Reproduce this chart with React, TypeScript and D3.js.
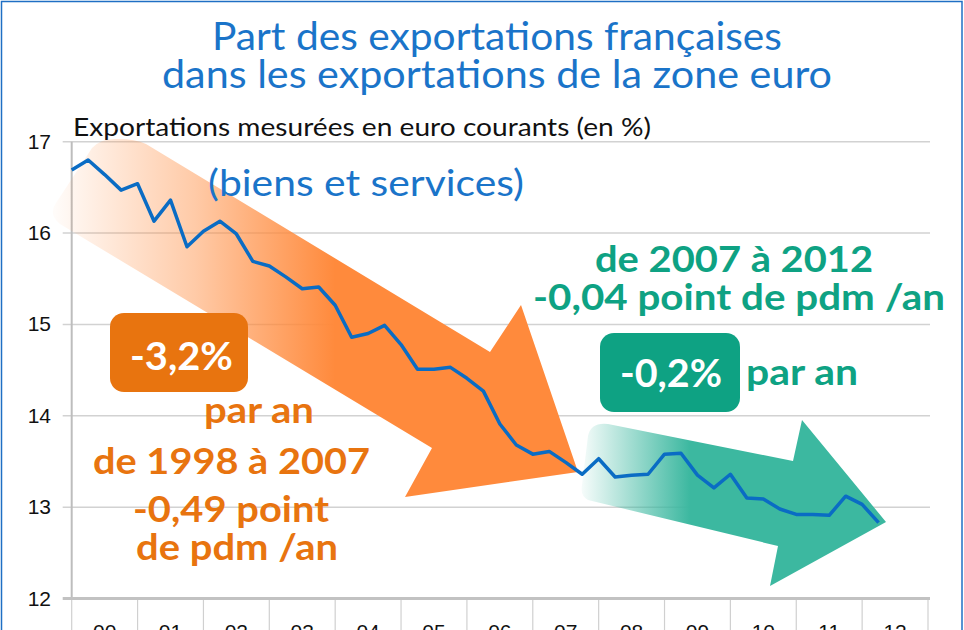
import React from "react";
import * as d3 from "d3";

// year labels on the x axis (2000 - 2012), four quarters per year
const years = ["00", "01", "02", "03", "04", "05", "06", "07", "08", "09", "10", "11", "12"];

// quarterly share of French exports in euro-area exports (%)
const share = [
  16.69, 16.8, 16.64, 16.47, 16.54, 16.13, 16.36, 15.85, 16.02, 16.13,
  15.99, 15.69, 15.64, 15.52, 15.39, 15.41, 15.21, 14.86, 14.9, 14.99,
  14.78, 14.51, 14.51, 14.53, 14.41, 14.27, 13.91, 13.68, 13.58, 13.61,
  13.49, 13.36, 13.53, 13.33, 13.35, 13.36, 13.58, 13.59, 13.35, 13.21,
  13.36, 13.1, 13.09, 12.98, 12.92, 12.92, 12.91, 13.12, 13.03, 12.83,
];

const yTicks = [12, 13, 14, 15, 16, 17];

const W = 964;
const H = 630;
const left = 71.7;
const right = 928;
const top = 141.7;
const bottom = 598.5;

const blue = "#1a74c9";
const orange = "#e8740f";
const teal = "#0ea283";
const font = "Lato, 'Noto Sans', sans-serif";
const axisFont = "'Liberation Sans', Arial, sans-serif";

// text stretched to the width it has in the original (Avenir is wider than Lato)
function Fit({ x, y, w, anchor = "start", children, ...rest }: any) {
  return (
    <text
      x={x}
      y={y}
      textAnchor={anchor}
      textLength={w}
      lengthAdjust="spacingAndGlyphs"
      {...rest}
    >
      {children}
    </text>
  );
}

export default function App() {
  const x = d3.scaleLinear().domain([0, years.length * 4]).range([left, right]);
  const y = d3.scaleLinear().domain([12, 17]).range([bottom, top]);

  const line = d3
    .line<number>()
    .x((_, i) => x(i))
    .y((d) => y(d));

  // the big annotation arrows
  const orangeArrow =
    "M60,224 Q48,214 56,203 L92,148 Q101,138 118,139 Q135,139 146,144 L490,352 L521,305 L578,472 L405,497 L432,448 Z";
  const greenArrow =
    "M588,500 Q580,496 582,485 L588,436 Q591,422 608,424 L793,461 L802,420 L886,522 L770,586 L778,546 Z";

  return (
    <div style={{ position: "absolute", left: 0, top: 0 }}>
      <svg width={W} height={H} style={{ display: "block", background: "#fff" }}>
        <defs>
          <linearGradient id="gOrange" gradientUnits="userSpaceOnUse" x1={55} y1={0} x2={335} y2={0}>
            <stop offset="0" stopColor="#ff8a3c" stopOpacity={0.03} />
            <stop offset="0.5" stopColor="#ff8a3c" stopOpacity={0.45} />
            <stop offset="1" stopColor="#ff8a3c" stopOpacity={1} />
          </linearGradient>
          <linearGradient id="gGreen" gradientUnits="userSpaceOnUse" x1={580} y1={0} x2={690} y2={0}>
            <stop offset="0" stopColor="#3cb8a0" stopOpacity={0.03} />
            <stop offset="1" stopColor="#3cb8a0" stopOpacity={1} />
          </linearGradient>
        </defs>

        {/* frame */}
        <rect x={1.5} y={1.5} width={960.5} height={660} fill="none" stroke="#1f6fc4" strokeWidth={1.5} />

        {/* title */}
        <Fit x={212} y={50} w={570} fontFamily={font} fontSize={38} fill={blue}>
          Part des exportations françaises
        </Fit>
        <Fit x={162} y={88} w={670} fontFamily={font} fontSize={38} fill={blue}>
          dans les exportations de la zone euro
        </Fit>
        <Fit x={73} y={136} w={578} fontFamily={font} fontSize={25} fill="#111">
          Exportations mesurées en euro courants (en %)
        </Fit>

        {/* grid + y labels */}
        {yTicks.map((t) => (
          <g key={t}>
            {t > 12 && (
              <line x1={left - 9} x2={right + 2} y1={y(t)} y2={y(t)} stroke="#d2d2d2" strokeWidth={1.5} />
            )}
            <text
              x={51}
              y={y(t) + 7}
              textAnchor="end"
              fontFamily={axisFont}
              fontSize={21}
              fill="#111"
            >
              {t}
            </text>
          </g>
        ))}
        <line x1={left} x2={left} y1={top} y2={bottom} stroke="#bdbdbd" strokeWidth={2} />

        {/* x axis */}
        {d3.range(years.length + 1).map((j) => (
          <line key={j} x1={x(j * 4)} x2={x(j * 4)} y1={bottom} y2={H} stroke="#d0d0d0" strokeWidth={1.2} />
        ))}
        <line x1={left - 9} x2={right + 2} y1={bottom} y2={bottom} stroke="#c2c2c2" strokeWidth={3} />
        {years.map((yr, j) => (
          <text
            key={yr}
            x={x(j * 4 + 2)}
            y={639}
            textAnchor="middle"
            fontFamily={axisFont}
            fontSize={21}
            fill="#111"
          >
            {yr}
          </text>
        ))}

        {/* arrows */}
        <path d={orangeArrow} fill="url(#gOrange)" />
        <path d={greenArrow} fill="url(#gGreen)" />

        <Fit x={208} y={196} w={316} fontFamily={font} fontSize={37} fill={blue}>
          (biens et services)
        </Fit>

        {/* series */}
        <path d={line(share) || ""} fill="none" stroke="#0a6cc4" strokeWidth={3.5} strokeLinejoin="round" />

        {/* orange annotations */}
        <rect x={110} y={313} width={138} height={79} rx={14} fill={orange} />
        <Fit x={130} y={370} w={103} fontFamily={font} fontWeight={700} fontSize={38} fill="#fff">
          -3,2%
        </Fit>
        <g fontFamily={font} fontWeight={700} fontSize={36} fill={orange}>
          <Fit x={204} y={423} w={110}>par an</Fit>
          <Fit x={93} y={474} w={277}>de 1998 à 2007</Fit>
          <Fit x={133} y={522} w={196}>-0,49 point</Fit>
          <Fit x={136} y={560} w={202}>de pdm /an</Fit>
        </g>

        {/* green annotations */}
        <rect x={600} y={333} width={140} height={79} rx={14} fill={teal} />
        <Fit x={620} y={387} w={102} fontFamily={font} fontWeight={700} fontSize={38} fill="#fff">
          -0,2%
        </Fit>
        <g fontFamily={font} fontWeight={700} fontSize={36} fill={teal}>
          <Fit x={746} y={385} w={112}>par an</Fit>
          <Fit x={595} y={272} w={278}>de 2007 à 2012</Fit>
          <Fit x={533} y={310} w={412}>-0,04 point de pdm /an</Fit>
        </g>
      </svg>
    </div>
  );
}
